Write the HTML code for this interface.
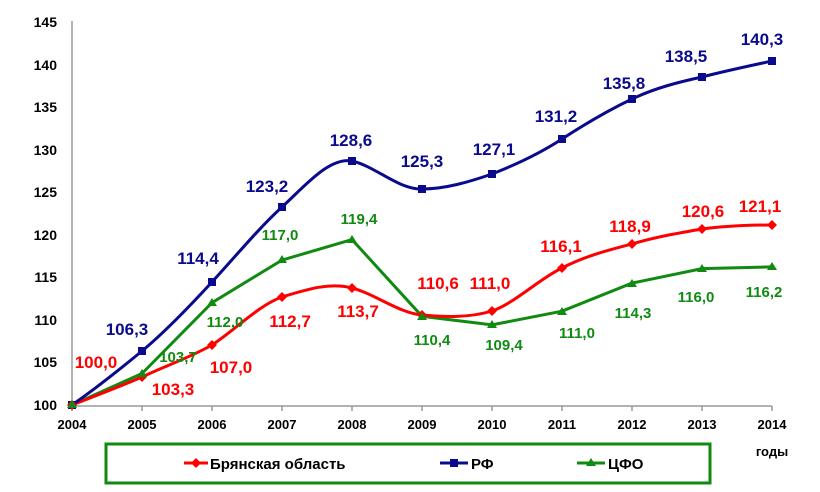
<!DOCTYPE html><html><head><meta charset="utf-8"><style>body{margin:0;background:#fff}svg{display:block}text{font-family:"Liberation Sans",Arial,sans-serif;font-weight:bold}</style></head><body>
<svg width="820" height="492" viewBox="0 0 820 492">
<g fill="#000" font-size="14" text-anchor="end">
<text x="57" y="410">100</text><text x="57" y="367">105</text><text x="57" y="325">110</text><text x="57" y="282">115</text><text x="57" y="240">120</text><text x="57" y="197">125</text><text x="57" y="155">130</text><text x="57" y="112">135</text><text x="57" y="70">140</text><text x="57" y="27">145</text>
</g>
<line x1="72" y1="21" x2="72" y2="406" stroke="#999" stroke-width="1.5"/>
<line x1="72" y1="406" x2="772" y2="406" stroke="#999" stroke-width="1.5"/>
<g stroke="#999" stroke-width="1.5"><line x1="72" y1="406" x2="72" y2="411"/><line x1="142" y1="406" x2="142" y2="411"/><line x1="212" y1="406" x2="212" y2="411"/><line x1="282" y1="406" x2="282" y2="411"/><line x1="352" y1="406" x2="352" y2="411"/><line x1="422" y1="406" x2="422" y2="411"/><line x1="492" y1="406" x2="492" y2="411"/><line x1="562" y1="406" x2="562" y2="411"/><line x1="632" y1="406" x2="632" y2="411"/><line x1="702" y1="406" x2="702" y2="411"/><line x1="772" y1="406" x2="772" y2="411"/></g>
<g font-size="13" text-anchor="middle" fill="#000">
<text x="72" y="429">2004</text><text x="142" y="429">2005</text><text x="212" y="429">2006</text><text x="282" y="429">2007</text><text x="352" y="429">2008</text><text x="422" y="429">2009</text><text x="492" y="429">2010</text><text x="562" y="429">2011</text><text x="632" y="429">2012</text><text x="702" y="429">2013</text><text x="772" y="429">2014</text>
<text x="772" y="456">годы</text></g>
<polyline fill="none" stroke="#118a11" stroke-width="3" points="72,405 142,373.5 212,302.7 282,260.1 352,239.6 422,316.3 492,324.9 562,311.2 632,283.1 702,268.6 772,266.9"/>
<path fill="none" stroke="#f00" stroke-width="3" d="M72,405 C95,396 119,387 142,377 C165,366 189,358 212,345 C235,330 259,305 282,297 C305,290 329,282 352,288 C375,294 399,313 422,315 C445,317 469,318 492,311 C515,303 539,279 562,268 C585,256 609,250 632,244 C655,237 679,233 702,229 C725,226 749,225 772,225"/>
<path fill="none" stroke="#0a0a8c" stroke-width="3" d="M72,405 C95,389 119,370 142,351 C165,332 189,307 212,282 C235,257 259,228 282,207 C305,186 329,157 352,161 C375,166 399,190 422,189 C445,189 469,182 492,174 C515,165 539,154 562,139 C585,124 609,110 632,99 C655,88 679,82 702,77 C725,71 749,66 772,61"/>
<g fill="#0a0a8c"><rect x="68" y="401" width="8" height="8"/><rect x="138" y="347" width="8" height="8"/><rect x="208" y="278" width="8" height="8"/><rect x="278" y="203" width="8" height="8"/><rect x="348" y="157" width="8" height="8"/><rect x="418" y="185" width="8" height="8"/><rect x="488" y="170" width="8" height="8"/><rect x="558" y="135" width="8" height="8"/><rect x="628" y="95" width="8" height="8"/><rect x="698" y="73" width="8" height="8"/><rect x="768" y="57" width="8" height="8"/></g>
<g fill="#f00"><path d="M72,400l5,5-5,5-5-5z"/><path d="M142,372l5,5-5,5-5-5z"/><path d="M212,340l5,5-5,5-5-5z"/><path d="M282,292l5,5-5,5-5-5z"/><path d="M352,283l5,5-5,5-5-5z"/><path d="M422,310l5,5-5,5-5-5z"/><path d="M492,306l5,5-5,5-5-5z"/><path d="M562,263l5,5-5,5-5-5z"/><path d="M632,239l5,5-5,5-5-5z"/><path d="M702,224l5,5-5,5-5-5z"/><path d="M772,220l5,5-5,5-5-5z"/></g>
<g fill="#118a11"><path d="M72,400l5,8h-10z"/><path d="M142,369l5,8h-10z"/><path d="M212,298l5,8h-10z"/><path d="M282,255l5,8h-10z"/><path d="M352,235l5,8h-10z"/><path d="M422,312l5,8h-10z"/><path d="M492,320l5,8h-10z"/><path d="M562,307l5,8h-10z"/><path d="M632,279l5,8h-10z"/><path d="M702,264l5,8h-10z"/><path d="M772,262l5,8h-10z"/></g>
<g font-size="17" fill="#0a0a8c" text-anchor="middle">
<text x="127" y="335">106,3</text><text x="198" y="264">114,4</text><text x="267" y="192">123,2</text><text x="351" y="146">128,6</text><text x="422" y="167">125,3</text><text x="494" y="155">127,1</text><text x="556" y="122">131,2</text><text x="624" y="89">135,8</text><text x="686" y="62">138,5</text><text x="762" y="45">140,3</text></g>
<g font-size="17" fill="#f00" text-anchor="middle">
<text x="96" y="368">100,0</text><text x="173" y="395">103,3</text><text x="231" y="373">107,0</text><text x="290" y="327">112,7</text><text x="358" y="317">113,7</text><text x="438" y="289">110,6</text><text x="490" y="289">111,0</text><text x="561" y="252">116,1</text><text x="630" y="232">118,9</text><text x="703" y="217">120,6</text><text x="760" y="212">121,1</text></g>
<g font-size="15" fill="#118a11" text-anchor="middle">
<text x="178" y="362">103,7</text><text x="225" y="327">112,0</text><text x="280" y="240">117,0</text><text x="359" y="224">119,4</text><text x="432" y="345">110,4</text><text x="504" y="350">109,4</text><text x="577" y="338">111,0</text><text x="633" y="318">114,3</text><text x="696" y="302">116,0</text><text x="764" y="297">116,2</text></g>
<rect x="106" y="444" width="604" height="39" fill="#fff" stroke="#118a11" stroke-width="3"/>
<line x1="184" y1="463" x2="208" y2="463" stroke="#f00" stroke-width="3"/><path d="M196,458l5,5-5,5-5-5z" fill="#f00"/>
<text x="210" y="469" font-size="15" fill="#000">Брянская область</text>
<line x1="440" y1="463" x2="468" y2="463" stroke="#0a0a8c" stroke-width="3"/><rect x="450" y="459" width="8" height="8" fill="#0a0a8c"/>
<text x="471" y="469" font-size="15" fill="#000">РФ</text>
<line x1="577" y1="463" x2="605" y2="463" stroke="#118a11" stroke-width="3"/><path d="M591,458l5,8h-10z" fill="#118a11"/>
<text x="608" y="469" font-size="15" fill="#000">ЦФО</text>
</svg></body></html>
